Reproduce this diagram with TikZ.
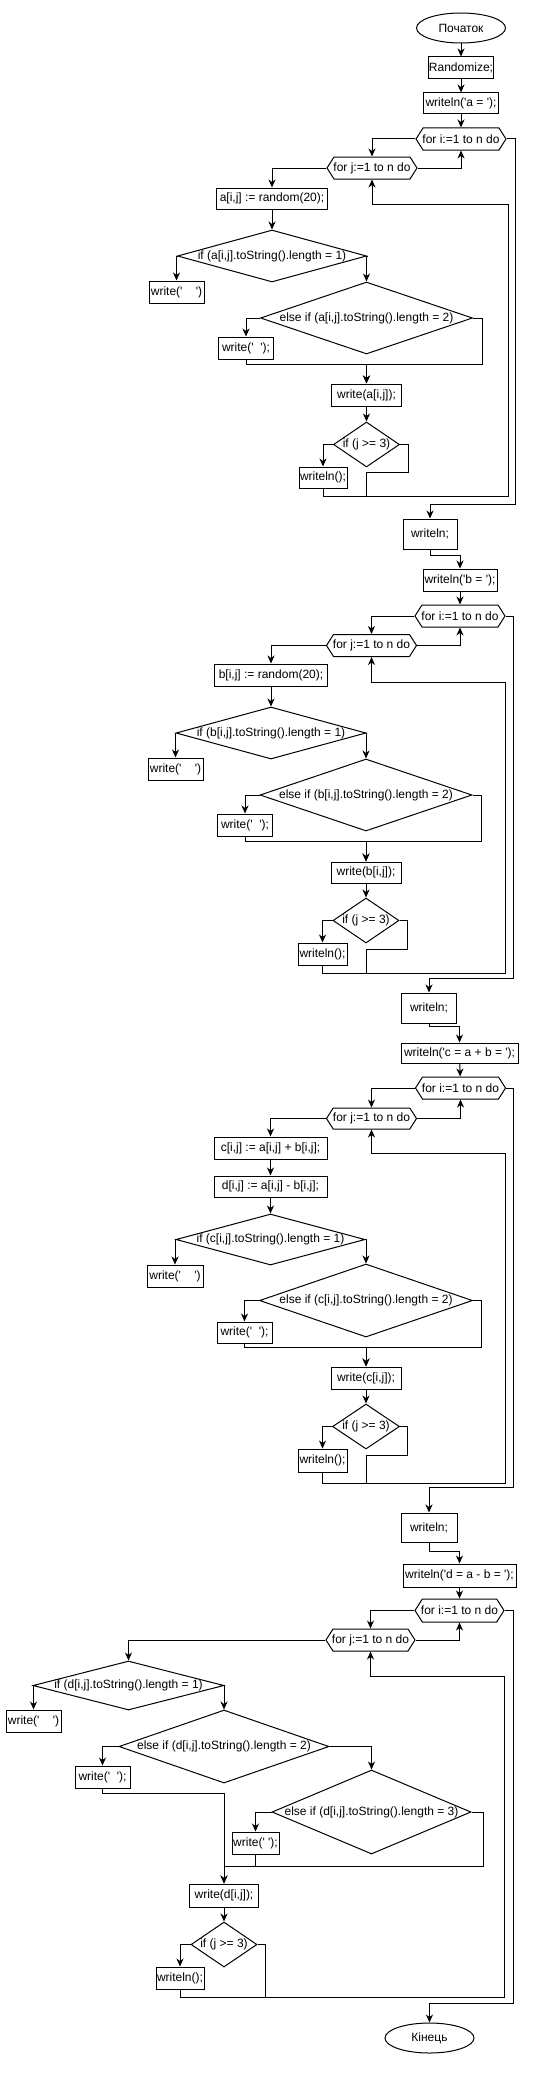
\documentclass[tikz,border=0pt]{standalone}
\usepackage{fontspec}
\newfontfamily\af{Liberation Sans}
\usetikzlibrary{shapes.geometric,shapes.symbols,arrows.meta}
\begin{document}
\begin{tikzpicture}[x=1pt,y=-1pt,
  base/.style={draw, line width=1pt, inner sep=0pt, fill=white, text=black, font=\af\fontsize{12}{14}\selectfont},
  proc/.style={base, rectangle},
  term/.style={base, ellipse},
  cond/.style={base, diamond},
  hexnode/.style={base, signal, signal to=west and east, signal pointer angle=115},
  arr/.style={line width=1pt, -{Stealth[length=8pt,width=7pt,inset=2.5pt]}},
  ln/.style={line width=1pt}]
\useasboundingbox (0,0) rectangle (539,2074);
% ---------------- section 1
\node[term, minimum width=89, minimum height=30] (s) at (461,28) {Початок};
\node[proc, minimum width=65, minimum height=22] (r) at (461,68) {Randomize;};
\node[proc, minimum width=75, minimum height=21] (wa) at (461,103.5) {writeln('a = ');};
\node[hexnode, minimum width=90, minimum height=22] (fi1) at (461,139) {\makebox[0pt]{for i:=1 to n do}};
\node[hexnode, minimum width=90, minimum height=22] (fj1) at (372,168) {\makebox[0pt]{for j:=1 to n do}};
\node[proc, minimum width=111, minimum height=21] (a1) at (272,198.5) {a[i,j] := random(20);};
\node[cond, minimum width=189, minimum height=52] (d1) at (272,256) {\makebox[0pt]{if (a[i,j].toString().length = 1)}};
\node[proc, minimum width=55, minimum height=22] (w1a) at (176.5,292) {write('\ \ \ \ ')};
\node[cond, minimum width=212, minimum height=72] (e1) at (366.5,318) {\makebox[0pt]{else if (a[i,j].toString().length = 2)}};
\node[proc, minimum width=55, minimum height=22] (w1b) at (246,348) {write('\ \ ');};
\node[proc, minimum width=70, minimum height=22] (wr1) at (366.5,395) {write(a[i,j]);};
\node[cond, minimum width=66, minimum height=45] (j1) at (366.5,444.5) {\makebox[0pt]{if (j >= 3)}};
\node[proc, minimum width=48, minimum height=21] (wl1) at (323,477.5) {writeln();};
\node[proc, minimum width=54, minimum height=30] (wn1) at (430,534) {writeln;};
% ---------------- section 2
\node[proc, minimum width=74, minimum height=22] (wb) at (460,580) {writeln('b = ');};
\node[hexnode, minimum width=90, minimum height=22] (fi2) at (460,616) {\makebox[0pt]{for i:=1 to n do}};
\node[hexnode, minimum width=90, minimum height=22] (fj2) at (371.5,645.5) {\makebox[0pt]{for j:=1 to n do}};
\node[proc, minimum width=113, minimum height=22] (b2) at (271,675) {b[i,j] := random(20);};
\node[cond, minimum width=190, minimum height=52] (d2) at (271,733) {\makebox[0pt]{if (b[i,j].toString().length = 1)}};
\node[proc, minimum width=55, minimum height=22] (w2a) at (175.5,769) {write('\ \ \ \ ')};
\node[cond, minimum width=212, minimum height=72] (e2) at (366,795) {\makebox[0pt]{else if (b[i,j].toString().length = 2)}};
\node[proc, minimum width=55, minimum height=22] (w2b) at (245,825) {write('\ \ ');};
\node[proc, minimum width=70, minimum height=21] (wr2) at (366,872.5) {write(b[i,j]);};
\node[cond, minimum width=66, minimum height=45] (j2) at (366,920.5) {\makebox[0pt]{if (j >= 3)}};
\node[proc, minimum width=49, minimum height=22] (wl2) at (322.5,954) {writeln();};
\node[proc, minimum width=55, minimum height=30] (wn2) at (429,1008) {writeln;};
% ---------------- section 3
\node[proc, minimum width=117, minimum height=20] (wc) at (459.5,1053) {writeln('c = a + b = ');};
\node[hexnode, minimum width=90, minimum height=22] (fi3) at (460.5,1088) {\makebox[0pt]{for i:=1 to n do}};
\node[hexnode, minimum width=90, minimum height=21] (fj3) at (371.5,1118.5) {\makebox[0pt]{for j:=1 to n do}};
\node[proc, minimum width=113, minimum height=22] (c3) at (270.5,1148) {c[i,j] := a[i,j] + b[i,j];};
\node[proc, minimum width=113, minimum height=21] (dd3) at (270.5,1186.5) {d[i,j] := a[i,j] - b[i,j];};
\node[cond, minimum width=189, minimum height=51] (d3) at (270.5,1239.5) {\makebox[0pt]{if (c[i,j].toString().length = 1)}};
\node[proc, minimum width=56, minimum height=22] (w3a) at (175,1276) {write('\ \ \ \ ')};
\node[cond, minimum width=213, minimum height=73] (e3) at (366,1300.5) {\makebox[0pt]{else if (c[i,j].toString().length = 2)}};
\node[proc, minimum width=55, minimum height=21] (w3b) at (244.5,1332.5) {write('\ \ ');};
\node[proc, minimum width=70, minimum height=22] (wr3) at (366,1378) {write(c[i,j]);};
\node[cond, minimum width=67, minimum height=45] (j3) at (366,1426.5) {\makebox[0pt]{if (j >= 3)}};
\node[proc, minimum width=49, minimum height=23] (wl3) at (322.5,1460.5) {writeln();};
\node[proc, minimum width=56, minimum height=29] (wn3) at (429,1527.5) {writeln;};
% ---------------- section 4
\node[proc, minimum width=113, minimum height=23] (wd) at (459.5,1575.5) {writeln('d = a - b = ');};
\node[hexnode, minimum width=89, minimum height=23] (fi4) at (459.5,1610.5) {\makebox[0pt]{for i:=1 to n do}};
\node[hexnode, minimum width=89, minimum height=22] (fj4) at (370.5,1640) {\makebox[0pt]{for j:=1 to n do}};
\node[cond, minimum width=191, minimum height=49] (d4) at (128.5,1685.5) {\makebox[0pt]{if (d[i,j].toString().length = 1)}};
\node[proc, minimum width=55, minimum height=22] (w4a) at (33.5,1721) {write('\ \ \ \ ')};
\node[cond, minimum width=210, minimum height=73] (e4) at (224,1746.5) {\makebox[0pt]{else if (d[i,j].toString().length = 2)}};
\node[proc, minimum width=55, minimum height=22] (w4b) at (102.5,1777) {write('\ \ ');};
\node[cond, minimum width=199, minimum height=84] (e5) at (371.5,1812) {\makebox[0pt]{else if (d[i,j].toString().length = 3)}};
\node[proc, minimum width=47, minimum height=22] (w5) at (255.5,1843) {write('\ ');};
\node[proc, minimum width=69, minimum height=23] (wr4) at (224,1895.5) {write(d[i,j]);};
\node[cond, minimum width=66, minimum height=45] (j4) at (224,1944.5) {\makebox[0pt]{if (j >= 3)}};
\node[proc, minimum width=48, minimum height=22] (wl4) at (180,1978) {writeln();};
\node[term, minimum width=89, minimum height=30] (e) at (429.5,2038) {Кінець};
% ---------------- connectors 1
\draw[arr] (s) -- (r);
\draw[arr] (r) -- (wa);
\draw[arr] (wa) -- (fi1);
\draw[arr] (fi1.west) -| (fj1.north);
\draw[arr] (fj1.east) -| (fi1.south);
\draw[arr] (fj1.west) -| (a1.north);
\draw[arr] (a1.south) -- (d1.north);
\draw[arr] (d1.west) -| (w1a.north);
\draw[arr] (d1.east) -| (e1.north);
\draw[arr] (e1.west) -| (w1b.north);
\coordinate (m1) at (366.5,364);
\draw[arr] (w1b.south) |- (m1) -- (wr1.north);
\draw[arr] (e1.east) -- ++(9,0) |- (m1) -- (wr1.north);
\draw[arr] (wr1.south) -- (j1.north);
\draw[arr] (j1.west) -| (wl1.north);
\draw[ln] (j1.east) -- ++(8,0) |- (366.5,472) -- (366.5,496);
\draw[arr] (wl1.south) |- (508,496) -- (508,204) -| (fj1.south);
\draw[arr] (fi1.east) -| (515,504) -| (wn1.north);
\draw[arr] (wn1.south) -- ++(0,6) -| (wb.north);
% ---------------- connectors 2
\draw[arr] (wb) -- (fi2);
\draw[arr] (fi2.west) -| (fj2.north);
\draw[arr] (fj2.east) -| (fi2.south);
\draw[arr] (fj2.west) -| (b2.north);
\draw[arr] (b2.south) -- (d2.north);
\draw[arr] (d2.west) -| (w2a.north);
\draw[arr] (d2.east) -| (e2.north);
\draw[arr] (e2.west) -| (w2b.north);
\coordinate (m2) at (366,841);
\draw[arr] (w2b.south) |- (m2) -- (wr2.north);
\draw[arr] (e2.east) -- ++(9,0) |- (m2) -- (wr2.north);
\draw[arr] (wr2.south) -- (j2.north);
\draw[arr] (j2.west) -| (wl2.north);
\draw[ln] (j2.east) -- ++(8,0) |- (366,949) -- (366,973);
\draw[arr] (wl2.south) |- (505,973) -- (505,682) -| (fj2.south);
\draw[arr] (fi2.east) -| (513,978) -| (wn2.north);
\draw[arr] (wn2.south) -- ++(0,3) -| (wc.north);
% ---------------- connectors 3
\draw[arr] (wc) -- (fi3);
\draw[arr] (fi3.west) -| (fj3.north);
\draw[arr] (fj3.east) -| (fi3.south);
\draw[arr] (fj3.west) -| (c3.north);
\draw[arr] (c3) -- (dd3);
\draw[arr] (dd3.south) -- (d3.north);
\draw[arr] (d3.west) -| (w3a.north);
\draw[arr] (d3.east) -| (e3.north);
\draw[arr] (e3.west) -| (w3b.north);
\coordinate (m3) at (366,1347);
\draw[arr] (w3b.south) |- (m3) -- (wr3.north);
\draw[arr] (e3.east) -- ++(8.5,0) |- (m3) -- (wr3.north);
\draw[arr] (wr3.south) -- (j3.north);
\draw[arr] (j3.west) -| (wl3.north);
\draw[ln] (j3.east) -- ++(7.5,0) |- (366,1455) -- (366,1483);
\draw[arr] (wl3.south) |- (505,1483) -- (505,1153) -| (fj3.south);
\draw[arr] (fi3.east) -| (513,1487) -| (wn3.north);
\draw[arr] (wn3.south) -- ++(0,9) -| (wd.north);
% ---------------- connectors 4
\draw[arr] (wd) -- (fi4);
\draw[arr] (fi4.west) -| (fj4.north);
\draw[arr] (fj4.east) -| (fi4.south);
\draw[arr] (fj4.west) -| (d4.north);
\draw[arr] (d4.west) -| (w4a.north);
\draw[arr] (d4.east) -| (e4.north);
\draw[arr] (e4.west) -| (w4b.north);
\draw[arr] (e4.east) -| (e5.north);
\draw[arr] (e5.west) -| (w5.north);
\draw[arr] (w4b.south) |- (224,1793) -- (wr4.north);
\draw[arr] (e5.east) -| (483,1866) -| (wr4.north);
\draw[ln] (w5.south) -- (255.5,1866);
\draw[arr] (wr4.south) -- (j4.north);
\draw[arr] (j4.west) -| (wl4.north);
\draw[ln] (j4.east) -| (265,1997);
\draw[arr] (wl4.south) |- (504,1997) -- (504,1676) -| (fj4.south);
\draw[arr] (fi4.east) -| (513,2003) -| (e.north);
\end{tikzpicture}
\end{document}
